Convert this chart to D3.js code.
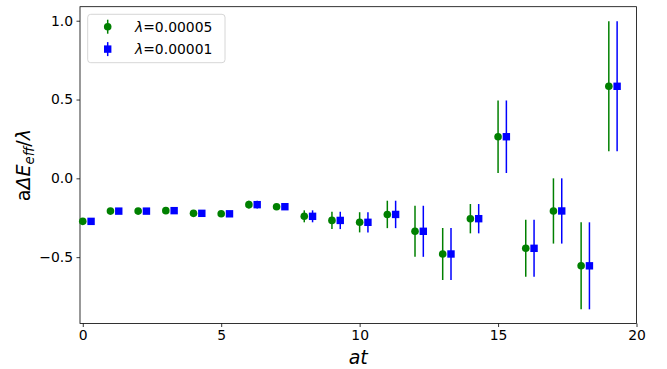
<!DOCTYPE html>
<html>
<head>
<meta charset="utf-8">
<script src="https://cdn.jsdelivr.net/npm/d3@7"></script>
<style>
  body { margin: 0; background: #fff; }
  svg { display: block; font-family: "DejaVu Sans", sans-serif; }
</style>
</head>
<body>
<svg id="chart" width="667" height="369"></svg>
<script>
// Euclidean time slices
const times = [0, 1, 2, 3, 4, 5, 6, 7, 8, 9, 10, 11, 12, 13, 14, 15, 16, 17, 18, 19];
// lambda = 0.00005
const valuesA = [-0.273, -0.208, -0.208, -0.205, -0.222, -0.225, -0.167, -0.180, -0.241, -0.267,
                 -0.279, -0.229, -0.336, -0.480, -0.256, 0.264, -0.444, -0.207, -0.555, 0.584];
const errorsA = [0.006, 0.006, 0.006, 0.006, 0.007, 0.008, 0.025, 0.012, 0.038, 0.055,
                 0.064, 0.087, 0.162, 0.165, 0.093, 0.230, 0.181, 0.207, 0.276, 0.412];
// lambda = 0.00001
const valuesB = [-0.273, -0.208, -0.208, -0.205, -0.222, -0.225, -0.167, -0.180, -0.241, -0.267,
                 -0.279, -0.229, -0.336, -0.480, -0.256, 0.264, -0.444, -0.207, -0.555, 0.584];
const errorsB = [0.006, 0.006, 0.006, 0.006, 0.007, 0.008, 0.025, 0.012, 0.038, 0.055,
                 0.064, 0.087, 0.162, 0.165, 0.093, 0.230, 0.181, 0.207, 0.276, 0.412];
const xTicks = [0, 5, 10, 15, 20];
const yTicks = [-0.5, 0.0, 0.5, 1.0];
const legendLabels = ["0.00005", "0.00001"];

const series = [
  { label: legendLabels[0], color: "green", shape: "circle", offset: 0.0, values: valuesA, errors: errorsA },
  { label: legendLabels[1], color: "blue", shape: "square", offset: 0.3, values: valuesB, errors: errorsB }
];

const svg = d3.select("#chart");
const m = { left: 80, right: 636.5, top: 6.7, bottom: 323.5 };

const x = d3.scaleLinear().domain([-0.1, 20]).range([m.left, m.right]);
const y = d3.scaleLinear().domain([-0.921, 1.089]).range([m.bottom, m.top]);

const fmtY = v => (v < 0 ? "\u2212" : "") + Math.abs(v).toFixed(1);

// axes
const xAxis = svg.append("g").attr("transform", `translate(0,${m.bottom})`)
  .call(d3.axisBottom(x).tickValues(xTicks).tickFormat(d3.format("d")).tickSize(3.5).tickPadding(3.5));
const yAxis = svg.append("g").attr("transform", `translate(${m.left},0)`)
  .call(d3.axisLeft(y).tickValues(yTicks).tickFormat(fmtY).tickSize(3.5).tickPadding(3.5));
[xAxis, yAxis].forEach(g => {
  g.select(".domain").remove();
  g.selectAll("line").attr("stroke", "#000").attr("stroke-width", 0.8);
  g.selectAll("text").attr("fill", "#000").attr("font-size", "13.9px")
    .attr("font-family", "DejaVu Sans, sans-serif");
});

// frame
svg.append("rect")
  .attr("x", m.left).attr("y", m.top)
  .attr("width", m.right - m.left).attr("height", m.bottom - m.top)
  .attr("fill", "none").attr("stroke", "#000").attr("stroke-width", 0.8);

// error bars and markers
const plot = svg.append("g");
series.forEach(s => {
  const g = plot.append("g");
  const rows = times.map((t, i) => ({ t: t + s.offset, v: s.values[i], e: s.errors[i] }));
  g.selectAll("line.err").data(rows).join("line")
    .attr("class", "err")
    .attr("x1", d => x(d.t)).attr("x2", d => x(d.t))
    .attr("y1", d => y(d.v - d.e)).attr("y2", d => y(d.v + d.e))
    .attr("stroke", s.color).attr("stroke-width", 1.5);
  if (s.shape === "circle") {
    g.selectAll("circle").data(rows).join("circle")
      .attr("cx", d => x(d.t)).attr("cy", d => y(d.v)).attr("r", 3.8)
      .attr("fill", s.color);
  } else {
    g.selectAll("rect").data(rows).join("rect")
      .attr("x", d => x(d.t) - 3.7).attr("y", d => y(d.v) - 3.7)
      .attr("width", 7.4).attr("height", 7.4)
      .attr("fill", s.color);
  }
});

// legend
const leg = svg.append("g");
leg.append("rect")
  .attr("x", 87.7).attr("y", 14.3).attr("width", 137.3).attr("height", 48.4)
  .attr("rx", 3).attr("fill", "#fff").attr("fill-opacity", 0.8)
  .attr("stroke", "#cccccc").attr("stroke-width", 0.8);
series.forEach((s, i) => {
  const cy = 26.7 + i * 22.4;
  const mx = 107.7;
  leg.append("line").attr("x1", mx).attr("x2", mx).attr("y1", cy - 7).attr("y2", cy + 7)
    .attr("stroke", s.color).attr("stroke-width", 1.5);
  if (s.shape === "circle") {
    leg.append("circle").attr("cx", mx).attr("cy", cy).attr("r", 3.8).attr("fill", s.color);
  } else {
    leg.append("rect").attr("x", mx - 3.7).attr("y", cy - 3.7).attr("width", 7.4).attr("height", 7.4)
      .attr("fill", s.color);
  }
  const t = leg.append("text").attr("x", 135).attr("y", cy + 5)
    .attr("font-size", "13.9px").attr("fill", "#000");
  t.append("tspan").attr("font-style", "italic").text("\u03bb");
  t.append("tspan").text("=" + s.label);
});

// axis labels
svg.append("text")
  .attr("x", (m.left + m.right) / 2).attr("y", 364)
  .attr("text-anchor", "middle").attr("font-size", "19px").attr("font-style", "italic")
  .text("at");

const yl = svg.append("text")
  .attr("transform", `translate(29.5,${(m.top + m.bottom) / 2}) rotate(-90)`)
  .attr("text-anchor", "middle").attr("font-size", "19px");
yl.append("tspan").text("a");
yl.append("tspan").attr("font-style", "italic").text("\u0394");
yl.append("tspan").attr("font-style", "italic").text("E");
yl.append("tspan").attr("font-style", "italic").attr("font-size", "13.3px").attr("dy", 4).text("eff");
yl.append("tspan").attr("dy", -4).text("/");
yl.append("tspan").attr("font-style", "italic").text("\u03bb");
</script>
</body>
</html>
